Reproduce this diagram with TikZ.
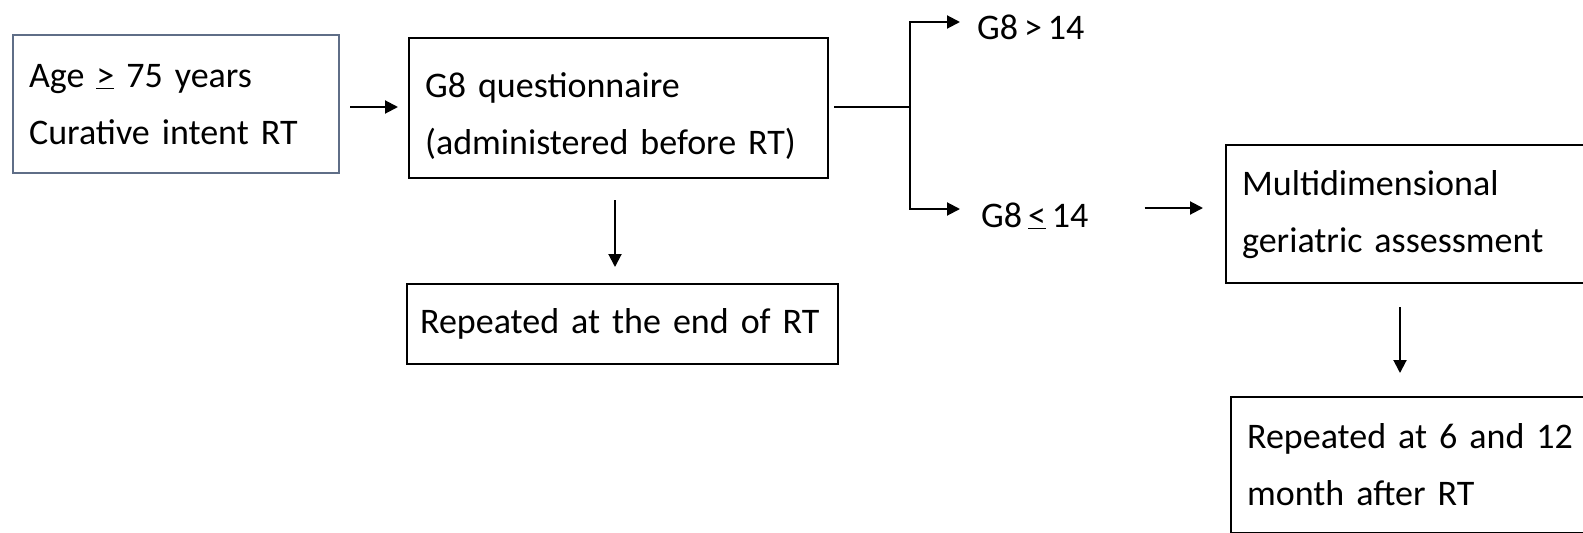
\documentclass[tikz,border=0pt]{standalone}
\usepackage{fontspec}
\setmainfont{Carlito}[WordSpace=0.72]
\usetikzlibrary{arrows.meta}
\definecolor{bluegray}{RGB}{95,110,135}
\tikzset{
  box/.style={draw=black, line width=2.2pt, anchor=north west, align=left,
    inner xsep=16pt, inner ysep=0pt, font=\fontsize{36}{57}\selectfont},
  bluebox/.style={box, draw=bluegray},
  lbl/.style={anchor=base west, inner sep=0pt, font=\fontsize{36}{57}\selectfont},
  arr/.style={line width=2pt, -{Triangle[length=13pt,width=13pt]}},
  ln/.style={line width=2pt}
}
\begin{document}
\begin{tikzpicture}[x=1pt,y=-1pt]
\useasboundingbox (0,0) rectangle (1583,533);
\clip (0,0) rectangle (1583,533);
\node[bluebox, minimum width=326pt, minimum height=138pt, text width=294pt] (age) at (12,34)
  {Age \underline{>} 75 years\\Curative intent RT};
\node[box, minimum width=419pt, minimum height=140pt, text width=387pt] (q) at (408,37)
  {\strut G8 questionnaire\\(administered before RT)};
\node[box, minimum width=431pt, minimum height=80pt, text width=405pt, inner xsep=13pt] (rep) at (406,283)
  {Repeated at the end of RT};
\node[lbl] (hi) at (977,39) {G8 > 14};
\node[lbl] (lo) at (981,227) {G8 \underline{<} 14};
\node[box, minimum width=400pt, minimum height=138pt, text width=368pt] (mda) at (1225,144)
  {Multidimensional\\geriatric assessment};
\node[box, minimum width=400pt, minimum height=136pt, text width=368pt] (rep2) at (1230,396)
  {Repeated at 6 and 12\\month after RT};
\coordinate (fork) at (910,107);
\coordinate (hiin) at (960,22);
\coordinate (loin) at (960,209);
\draw[arr, shorten <=10pt, shorten >=10pt] (age.east |- fork) -- (q.west |- fork);
\draw[ln, shorten <=5pt] (q.east |- fork) -- (fork);
\draw[arr] (fork) |- (hiin);
\draw[arr] (fork) |- (loin);
\draw[arr, shorten <=21pt, shorten >=16pt] (q.south -| 615,0) -- (rep.north -| 615,0);
\draw[arr, shorten <=56pt, shorten >=22pt] (lo.east |- 0,208) -- (mda.west |- 0,208);
\draw[arr, shorten <=23pt, shorten >=23pt] (mda.south -| 1400,0) -- (rep2.north -| 1400,0);
\end{tikzpicture}
\end{document}
